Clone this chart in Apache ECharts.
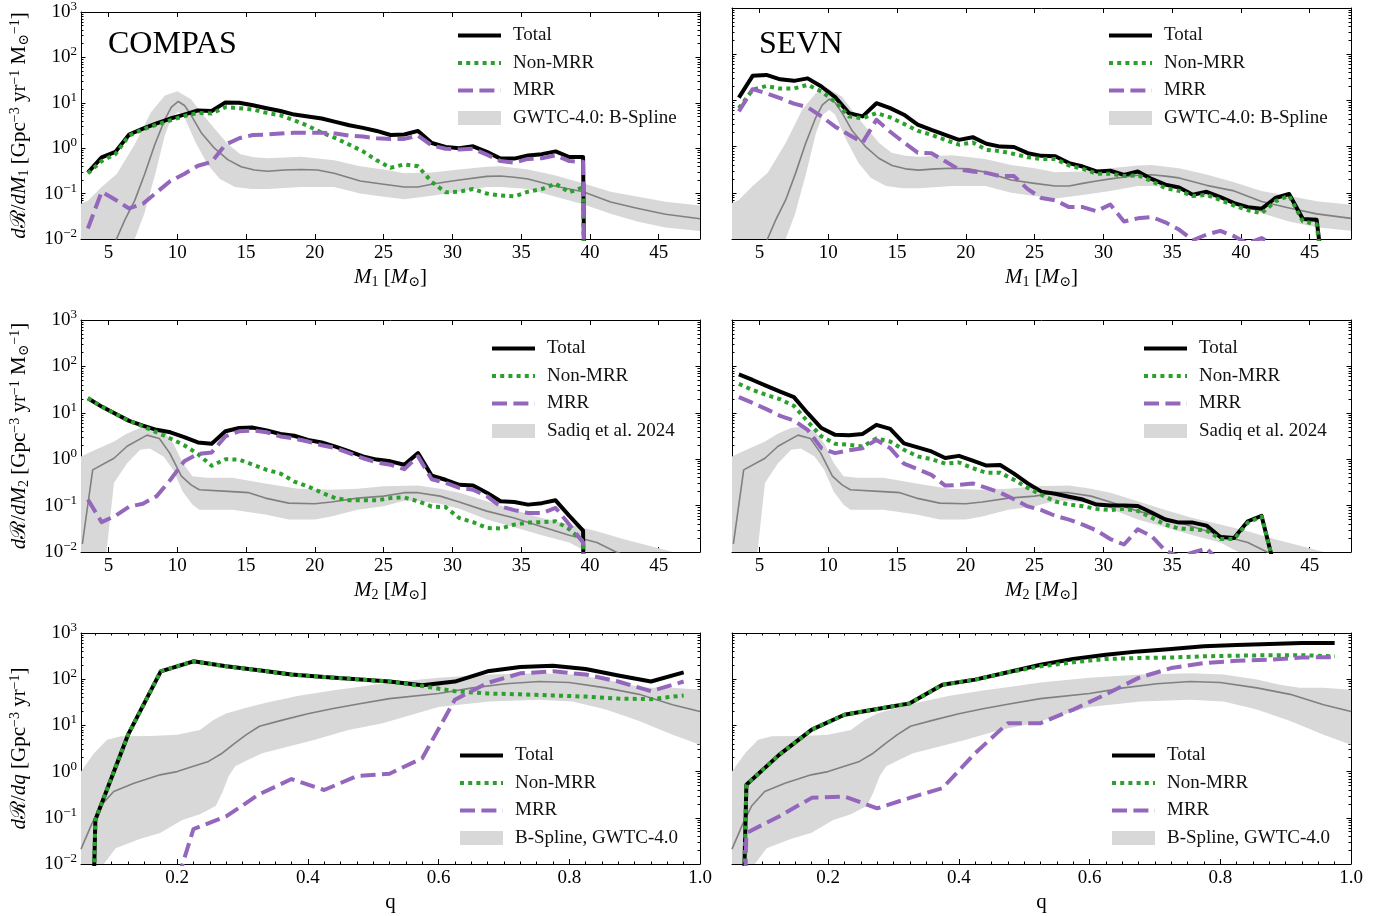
<!DOCTYPE html>
<html><head><meta charset="utf-8">
<script src="https://cdn.jsdelivr.net/npm/echarts@6/dist/echarts.min.js"></script>
<style>html,body{margin:0;padding:0;background:#fff}#c{width:1390px;height:916px}</style>
</head><body><div id="c"></div><script>
// ---------------- DATA ----------------
const massBins = [3.5,4.5,5.5,6.5,7.5,8.5,9.5,10.5,11.5,12.5,13.5,14.5,15.5,16.5,17.5,18.5,19.5,20.5,21.5,22.5,23.5,24.5,25.5,26.5,27.5,28.5,29.5,30.5,31.5,32.5,33.5,34.5,35.5,36.5,37.5,38.5,39.5,40.5,41.5,42.5,43.5,44.5,45.5,46.5];
const qBins = [0.025,0.075,0.125,0.175,0.225,0.275,0.325,0.375,0.425,0.475,0.525,0.575,0.625,0.675,0.725,0.775,0.825,0.875,0.925,0.975];

// COMPAS, primary mass
const compasM1Total = [0.29,0.63,0.83,2.0,2.7,3.5,4.5,5.5,6.8,6.6,10.2,10.0,8.8,7.6,6.6,5.5,5.0,4.5,3.8,3.2,2.8,2.4,1.95,2.0,2.4,1.3,1.07,1.0,1.1,0.83,0.59,0.59,0.69,0.74,0.85,0.64,0.64,1e-30];
const compasM1Non = [0.28,0.52,0.74,1.9,2.6,3.3,4.1,5.1,6.0,5.8,8.0,7.6,7.1,6.0,5.3,4.1,3.1,2.2,1.66,1.2,0.85,0.54,0.37,0.44,0.4,0.18,0.107,0.11,0.126,0.10,0.091,0.087,0.11,0.126,0.166,0.107,0.137,1e-30];
const compasM1MRR = [0.017,0.11,0.073,0.047,0.06,0.107,0.19,0.27,0.41,0.5,1.2,1.66,1.95,2.0,2.1,2.2,2.2,2.2,2.1,1.9,1.8,1.66,1.6,1.6,1.9,1.15,0.97,0.94,0.97,0.72,0.52,0.48,0.58,0.6,0.7,0.52,0.5,1e-30];
// SEVN, primary mass
const sevnM1Total = [11.5,34,35.6,28.6,26.5,30,20,11.8,5.3,4.5,8.7,6.8,4.9,3.0,2.3,1.8,1.4,1.6,1.15,1.0,0.98,0.72,0.63,0.62,0.44,0.37,0.29,0.3,0.245,0.29,0.2,0.15,0.13,0.091,0.105,0.081,0.06,0.049,0.045,0.077,0.094,0.027,0.026,1e-4];
const sevnM1Non = [6.8,17,20.5,18,18,21.7,15.6,9.4,4.5,4.1,5.3,4.3,3.1,2.2,1.8,1.4,1.1,1.23,0.85,0.8,0.69,0.59,0.54,0.54,0.39,0.33,0.26,0.26,0.23,0.24,0.18,0.126,0.11,0.085,0.09,0.07,0.053,0.042,0.036,0.065,0.087,0.024,0.021,1e-4];
const sevnM1MRR = [5.8,17.5,14.3,11.2,8.5,7.1,4.5,2.7,1.8,1.23,3.8,2.1,1.23,0.74,0.72,0.48,0.32,0.29,0.27,0.23,0.23,0.12,0.077,0.069,0.049,0.049,0.04,0.056,0.024,0.028,0.03,0.023,0.016,0.0094,0.0125,0.015,0.0115,0.008,0.0105,0.007,0.004,1e-30];
// COMPAS, secondary mass
const compasM2Total = [20.6,13.6,9.5,6.7,5.3,4.3,3.8,3.0,2.3,2.15,4.0,4.7,4.8,4.15,3.5,3.2,2.6,2.3,1.87,1.47,1.15,0.98,0.9,0.76,1.35,0.44,0.36,0.28,0.27,0.19,0.124,0.12,0.105,0.113,0.13,0.06,0.029,1e-30];
const compasM2Non = [20.6,13.6,9.5,6.7,5.1,3.8,2.8,2.0,1.3,0.72,1.0,0.98,0.76,0.59,0.49,0.33,0.26,0.19,0.145,0.13,0.13,0.13,0.145,0.15,0.124,0.095,0.093,0.054,0.044,0.033,0.032,0.039,0.043,0.044,0.046,0.031,0.017,1e-30];
const compasM2MRR = [0.135,0.044,0.06,0.095,0.11,0.16,0.36,0.9,1.3,1.4,3.1,4.0,4.15,3.8,3.1,2.8,2.4,2.0,1.74,1.35,1.05,0.85,0.76,0.61,1.15,0.37,0.31,0.24,0.22,0.16,0.096,0.08,0.069,0.069,0.089,0.039,0.016,1e-30];
// SEVN, secondary mass
const sevnM2Total = [67,51,38,28.6,21.8,9.8,4.7,3.35,3.3,3.5,5.5,4.5,2.2,1.8,1.47,1.06,1.18,0.93,0.73,0.75,0.49,0.3,0.2,0.18,0.155,0.135,0.105,0.1,0.1,0.098,0.071,0.05,0.043,0.043,0.037,0.021,0.02,0.046,0.06,0.004,1e-30];
const sevnM2Non = [42,31,24.3,19.6,14.1,6.5,3.1,2.15,2.05,1.87,2.8,2.4,1.6,1.15,1.0,0.8,0.85,0.64,0.51,0.51,0.36,0.24,0.17,0.123,0.105,0.097,0.085,0.08,0.085,0.077,0.055,0.039,0.032,0.031,0.029,0.019,0.019,0.043,0.058,0.004,1e-30];
const sevnM2MRR = [21.8,16.3,12,8.6,6.8,4.3,1.73,1.35,1.55,1.73,2.6,1.73,0.8,0.61,0.46,0.27,0.28,0.3,0.24,0.19,0.137,0.096,0.08,0.06,0.05,0.039,0.029,0.019,0.0145,0.031,0.022,0.0107,0.008,0.0098,0.012,0.006,0.003,1e-30];
// COMPAS, mass ratio
const compasQTotal = [1e-30,0.091,6.3,148,244,190,156,126,112,100,89,74,89,148,183,196,166,120,89,141];
const compasQNon = [1e-30,0.091,6.3,148,244,190,156,126,112,100,89,71,55,49,47,44.5,42,38,37,44.5];
const compasQMRR = [1e-30,1e-30,1e-30,0.0003,0.057,0.107,0.32,0.69,0.40,0.8,0.9,1.95,36,83,134,148,126,89,55,89];
// SEVN, mass ratio
const sevnQTotal = [1e-30,0.52,2.3,8.1,17,22.7,30,76,98,141,206,274,340,400,450,515,550,580,608,608];
const sevnQNon = [1e-30,0.52,2.3,8.1,17,22.7,30,76,98,141,190,232,274,288,295,313,323,330,330,313];
const sevnQMRR = [1e-30,0.047,0.107,0.27,0.29,0.16,0.27,0.44,2.5,11.2,11.2,22,47,107,174,224,250,265,295,300];

// GWTC-4.0 B-Spline, primary mass (median + band)
const gwM1MedX = [5.0,5.58,6.18,6.91,7.63,8.36,9.08,9.57,10.07,10.53,11.01,11.74,12.7,13.67,14.64,15.6,16.57,17.78,19.0,20.2,21.4,23.3,25,26.5,27.5,28.5,29.5,30.5,32.5,33.5,34.5,35.5,37.5,39.5,41.5,43.5,45.5,48];
const gwM1MedY = [0.003,0.01,0.026,0.071,0.27,1.19,4.2,8,10.7,8.7,5.3,2.2,1.0,0.56,0.39,0.33,0.31,0.33,0.34,0.33,0.28,0.19,0.16,0.14,0.14,0.16,0.18,0.2,0.24,0.245,0.23,0.21,0.145,0.11,0.065,0.047,0.035,0.028];
const gwM1UpX = [3.0,3.5,4.5,5.6,6.9,8.1,9.1,10.0,11.0,11.7,12.7,13.7,14.6,15.6,16.6,19.0,21.4,23.3,25,26.5,28.5,30.5,32.5,33.5,35.5,37.5,39.5,41.5,43.5,45.5,48];
const gwM1UpY = [0.06,0.07,0.14,0.27,1.2,6.3,14.5,18,12,6.3,2.7,1.2,0.74,0.63,0.6,0.65,0.54,0.4,0.34,0.28,0.29,0.34,0.39,0.4,0.34,0.25,0.17,0.11,0.085,0.066,0.055];
const gwM1LoX = [3.0,6.5,6.9,7.6,8.4,9.1,9.6,10.07,10.5,11.3,12.2,13.1,14.2,15.4,16.6,19.0,21.4,23.3,25,26.5,28.5,30.5,32.5,33.5,35.5,37.5,39.5,41.5,43.5,45.5,48];
const gwM1LoY = [1e-4,0.005,0.01,0.036,0.27,1.95,4.9,6.3,4.9,1.4,0.44,0.21,0.14,0.126,0.126,0.14,0.14,0.1,0.085,0.075,0.09,0.11,0.14,0.14,0.126,0.085,0.058,0.036,0.024,0.018,0.015];

// Sadiq et al. 2024, secondary mass
const sqM2MedX = [3.1,3.85,5.4,6.35,7.8,8.7,9.45,10.3,11.0,11.6,14.0,15.2,16.4,18.1,20.0,21.2,23.1,25,26.5,27.5,29.1,30.5,32.5,34.5,36.5,38.5,40.5,41.9,45,48];
const sqM2MedY = [0.015,0.59,1.05,1.9,3.3,2.8,1.35,0.43,0.28,0.22,0.2,0.19,0.145,0.113,0.11,0.12,0.145,0.16,0.19,0.19,0.16,0.12,0.076,0.054,0.035,0.023,0.016,0.01,0.0045,0.002];
const sqM2UpX = [3.0,3.85,5.4,6.35,7.3,8.0,9.0,9.7,10.4,11.1,12.1,14.0,16.4,18.8,21.2,23.1,25,27.5,29.1,30.5,32.5,34.5,36.5,38.5,40.5,42.4,45,48];
const sqM2UpY = [1.15,1.5,2.4,3.6,4.7,5,4.0,2.2,0.83,0.43,0.4,0.4,0.3,0.23,0.22,0.23,0.26,0.27,0.23,0.19,0.124,0.08,0.054,0.039,0.028,0.019,0.012,0.007];
const sqM2LoX = [3.0,4.5,4.85,5.4,6.35,7.3,8.0,9.0,9.7,10.4,11.1,11.6,14.0,16.4,18.1,20.0,21.2,23.1,25,26.5,27.5,29.1,30.5,32.5,34.5,36.5,38.5,39.8,42,48];
const sqM2LoY = [1e-4,1e-4,0.01,0.31,0.82,1.6,1.7,1.15,0.59,0.2,0.105,0.081,0.081,0.064,0.05,0.05,0.058,0.081,0.097,0.128,0.128,0.11,0.085,0.05,0.034,0.023,0.016,0.01,0.005,0.001];

// B-Spline GWTC-4.0, mass ratio
const gwQMedX = [0.053,0.068,0.083,0.103,0.134,0.174,0.2,0.225,0.248,0.269,0.289,0.306,0.326,0.361,0.4,0.437,0.477,0.525,0.6,0.652,0.703,0.754,0.8,0.856,0.907,0.958,1.0];
const gwQMedY = [0.021,0.066,0.18,0.37,0.56,0.85,1.0,1.3,1.66,2.5,4.2,6.3,9.6,13,17.8,23,29,38,49,65,80,89,85,65,47,28,20];
const gwQUpX = [0.053,0.073,0.093,0.114,0.16,0.2,0.235,0.255,0.275,0.306,0.336,0.386,0.437,0.477,0.525,0.6,0.678,0.754,0.805,0.856,0.891,0.922,0.958,1.0];
const gwQUpY = [1.0,2.5,4.9,5.8,5.9,6.3,8,13,18,24,31,44,57,68,85,107,126,135,126,98,76,65,65,59];
const gwQLoX = [0.053,0.088,0.106,0.144,0.174,0.208,0.235,0.259,0.269,0.279,0.289,0.309,0.33,0.36,0.411,0.462,0.513,0.6,0.678,0.754,0.805,0.856,0.907,0.958,1.0];
const gwQLoY = [0.001,0.01,0.022,0.035,0.047,0.09,0.12,0.18,0.35,0.8,1.3,1.8,2.5,3.2,4.9,8,11,25,33,36,33,22,12.4,6.3,3.8];

const massTicks = [5,10,15,20,25,30,35,40,45];
const qTicks = [0.2,0.4,0.6,0.8,1.0];
const yTicks = [0.01,0.1,1,10,100,1000];

// ---------------- STYLE / LAYOUT ----------------
const FONT = "'Liberation Serif','DejaVu Serif',serif";
const BAND = '#d8d8d8';
const C_TOTAL = '#000000', C_NON = '#2ca02c', C_MRR = '#9467bd', C_MED = '#808080';
const DOT = [4, 4.2], DASH = [15, 6.4];
const gridBoxes = [
  {left:81, top:8, width:619, height:231},
  {left:732, top:8, width:619, height:231},
  {left:81, top:320, width:619, height:232},
  {left:732, top:320, width:619, height:232},
  {left:81, top:633, width:619, height:231},
  {left:732, top:633, width:619, height:231}
];
const yMinor = [];
[0.01,0.1,1,10,100].forEach(d => { for (let k = 2; k <= 9; k++) yMinor.push(+(d*k).toPrecision(3)); });
const qMinor = [];
for (let k = 3; k <= 39; k++) qMinor.push(+(k*0.025).toFixed(3));

const RICH = {
  n: {fontFamily: FONT, fontSize: 21, color: '#000'},
  i: {fontFamily: FONT, fontSize: 21, fontStyle: 'italic', color: '#000'},
  sb: {fontFamily: FONT, fontSize: 14, color: '#000', padding: [9,0,0,0]},
  sp: {fontFamily: FONT, fontSize: 14, color: '#000', padding: [0,0,9,0]}
};
const TICKRICH = {
  b: {fontFamily: FONT, fontSize: 19, color: '#000'},
  s: {fontFamily: FONT, fontSize: 13, color: '#000', padding: [0,0,11,0]}
};

const panels = [
  {kind:'m', x:massBins, tot:compasM1Total, non:compasM1Non, mrr:compasM1MRR, band:[gwM1MedX,gwM1MedY,gwM1UpX,gwM1UpY,gwM1LoX,gwM1LoY], bandName:'GWTC-4.0: B-Spline', leg:[456,26], xname:'{i|M}{sb|1}{n| [}{i|M}{sb|⊙}{n|]}', yname:'{i|d}{n|ℛ/}{i|dM}{sb|1}{n| [Gpc}{sp|−3}{n| yr}{sp|−1}{n| M}{sb|⊙}{sp|−1}{n|]}'},
  {kind:'m', x:massBins, tot:sevnM1Total, non:sevnM1Non, mrr:sevnM1MRR, band:[gwM1MedX,gwM1MedY,gwM1UpX,gwM1UpY,gwM1LoX,gwM1LoY], bandName:'GWTC-4.0: B-Spline', leg:[1107,26], xname:'{i|M}{sb|1}{n| [}{i|M}{sb|⊙}{n|]}'},
  {kind:'m', x:massBins, tot:compasM2Total, non:compasM2Non, mrr:compasM2MRR, band:[sqM2MedX,sqM2MedY,sqM2UpX,sqM2UpY,sqM2LoX,sqM2LoY], bandName:'Sadiq et al. 2024', leg:[490,339], xname:'{i|M}{sb|2}{n| [}{i|M}{sb|⊙}{n|]}', yname:'{i|d}{n|ℛ/}{i|dM}{sb|2}{n| [Gpc}{sp|−3}{n| yr}{sp|−1}{n| M}{sb|⊙}{sp|−1}{n|]}'},
  {kind:'m', x:massBins, tot:sevnM2Total, non:sevnM2Non, mrr:sevnM2MRR, band:[sqM2MedX,sqM2MedY,sqM2UpX,sqM2UpY,sqM2LoX,sqM2LoY], bandName:'Sadiq et al. 2024', leg:[1142,339], xname:'{i|M}{sb|2}{n| [}{i|M}{sb|⊙}{n|]}'},
  {kind:'q', x:qBins, tot:compasQTotal, non:compasQNon, mrr:compasQMRR, band:[gwQMedX,gwQMedY,gwQUpX,gwQUpY,gwQLoX,gwQLoY], bandName:'B-Spline, GWTC-4.0', leg:[458,746], xname:'{n|q}', yname:'{i|d}{n|ℛ/}{i|dq}{n| [Gpc}{sp|−3}{n| yr}{sp|−1}{n|]}'},
  {kind:'q', x:qBins, tot:sevnQTotal, non:sevnQNon, mrr:sevnQMRR, band:[gwQMedX,gwQMedY,gwQUpX,gwQUpY,gwQLoX,gwQLoY], bandName:'B-Spline, GWTC-4.0', leg:[1110,746], xname:'{n|q}'}
];

const xAxis = [], yAxis = [], series = [], legend = [];
const axLine = {show:true, onZero:false, lineStyle:{color:'#000', width:1}};

panels.forEach((p, g) => {
  const isQ = p.kind === 'q';
  const isLeft = g % 2 === 0;
  const xr = isQ ? {min:0.053, max:1.0} : {min:3, max:48};
  const xMain = xAxis.length;
  const xBase = Object.assign({gridIndex:g, type:'value', splitLine:{show:false}, axisLine:axLine}, xr);
  xAxis.push(Object.assign({}, xBase, {
    position:'bottom',
    axisTick:{show:true, inside:true, length:5, customValues: isQ ? qTicks : massTicks, lineStyle:{color:'#000'}},
    axisLabel:{customValues: isQ ? qTicks : massTicks, margin:5, fontFamily:FONT, fontSize:19, color:'#000',
      formatter: v => isQ ? Number(v).toFixed(1) : String(v)},
    name: p.xname, nameLocation:'middle', nameGap: isQ ? 28 : 27, nameTextStyle:{rich:RICH}
  }));
  xAxis.push(Object.assign({}, xBase, {position:'top', axisTick:{show:true, inside:true, length:5, customValues: isQ ? qTicks : massTicks, lineStyle:{color:'#000'}}, axisLabel:{show:false}}));
  if (isQ) {
    xAxis.push(Object.assign({}, xBase, {position:'bottom', axisLine:{show:false}, axisTick:{show:true, inside:true, length:2.5, customValues:qMinor, lineStyle:{color:'#000'}}, axisLabel:{show:false}}));
    xAxis.push(Object.assign({}, xBase, {position:'top', axisLine:{show:false}, axisTick:{show:true, inside:true, length:2.5, customValues:qMinor, lineStyle:{color:'#000'}}, axisLabel:{show:false}}));
  }
  const yMain = yAxis.length;
  const yBase = {gridIndex:g, type:'log', logBase:10, min:0.01, max:1000, splitLine:{show:false}, axisLine:axLine};
  yAxis.push(Object.assign({}, yBase, {
    position:'left',
    axisTick:{show:true, inside:true, length:4.5, customValues:yTicks, lineStyle:{color:'#000'}},
    axisLabel:{show:isLeft, customValues:yTicks, margin:4, rich:TICKRICH,
      formatter: v => { const e = Math.round(Math.log10(v)); return '{b|10}{s|' + (e < 0 ? '−' : '') + Math.abs(e) + '}'; }},
    name: p.yname || '', nameLocation:'middle', nameGap:50, nameTextStyle:{rich:RICH}
  }));
  yAxis.push(Object.assign({}, yBase, {position:'right', axisTick:{show:true, inside:true, length:4.5, customValues:yTicks, lineStyle:{color:'#000'}}, axisLabel:{show:false}}));
  yAxis.push(Object.assign({}, yBase, {position:'right', axisLine:{show:false}, axisTick:{show:true, inside:true, length:2.5, customValues:yMinor, lineStyle:{color:'#000'}}, axisLabel:{show:false}}));
  yAxis.push(Object.assign({}, yBase, {position:'left', axisLine:{show:false}, axisTick:{show:true, inside:true, length:2.5, customValues:yMinor, lineStyle:{color:'#000'}}, axisLabel:{show:false}}));

  const [mx, my, ux, uy, lx, ly] = p.band;
  series.push({
    type:'custom', name:p.bandName, xAxisIndex:xMain, yAxisIndex:yMain, clip:true, silent:true, z:1,
    itemStyle:{color:BAND}, data:[[ux[0], uy[0]]], encode:{x:0, y:1},
    renderItem: (params, api) => {
      if (params.dataIndex !== 0) return null;
      const pts = [];
      ux.forEach((x, i) => pts.push(api.coord([x, uy[i]])));
      for (let i = lx.length - 1; i >= 0; i--) pts.push(api.coord([lx[i], ly[i]]));
      return {type:'polygon', shape:{points:pts}, style:{fill:BAND}};
    }
  });
  const line = (name, xs, ys, color, width, type, z) => ({
    type:'line', name, xAxisIndex:xMain, yAxisIndex:yMain, data: ys.map((y, i) => [xs[i], y]),
    symbol:'none', showSymbol:false, silent:true, z, clip:true,
    lineStyle:{color, width, type, cap:'butt', join:'round'}, itemStyle:{color}, emphasis:{disabled:true}
  });
  series.push(line('median-' + g, mx, my, C_MED, 1.6, 'solid', 2));
  series.push(line('Total', p.x, p.tot, C_TOTAL, 4, 'solid', 3));
  series.push(line('Non-MRR', p.x, p.non, C_NON, 4, DOT, 4));
  series.push(line('MRR', p.x, p.mrr, C_MRR, 4, DASH, 5));

  legend.push({
    left:p.leg[0], top:p.leg[1], padding:0, orient:'vertical', itemWidth:43, itemHeight:14, itemGap:8.5,
    selectedMode:false, itemStyle:{opacity:0},
    textStyle:{fontFamily:FONT, fontSize:19, color:'#111', padding:[0,0,0,7]},
    data:[
      {name:'Total', lineStyle:{color:C_TOTAL, width:4, type:'solid', cap:'butt'}},
      {name:'Non-MRR', lineStyle:{color:C_NON, width:4, type:DOT, cap:'butt'}},
      {name:'MRR', lineStyle:{color:C_MRR, width:4, type:DASH, cap:'butt'}},
      {name:p.bandName, icon:'rect', itemStyle:{opacity:1, color:BAND}}
    ]
  });
});

const chart = echarts.init(document.getElementById('c'), null, {renderer:'canvas', width:1390, height:916});
chart.setOption({
  animation:false,
  backgroundColor:'#fff',
  title:[
    {text:'COMPAS', left:103, top:24, textStyle:{fontFamily:FONT, fontSize:32, fontWeight:'normal', color:'#000'}},
    {text:'SEVN', left:754, top:24, textStyle:{fontFamily:FONT, fontSize:32, fontWeight:'normal', color:'#000'}}
  ],
  grid: gridBoxes,
  xAxis, yAxis, series, legend
});
</script></body></html>
